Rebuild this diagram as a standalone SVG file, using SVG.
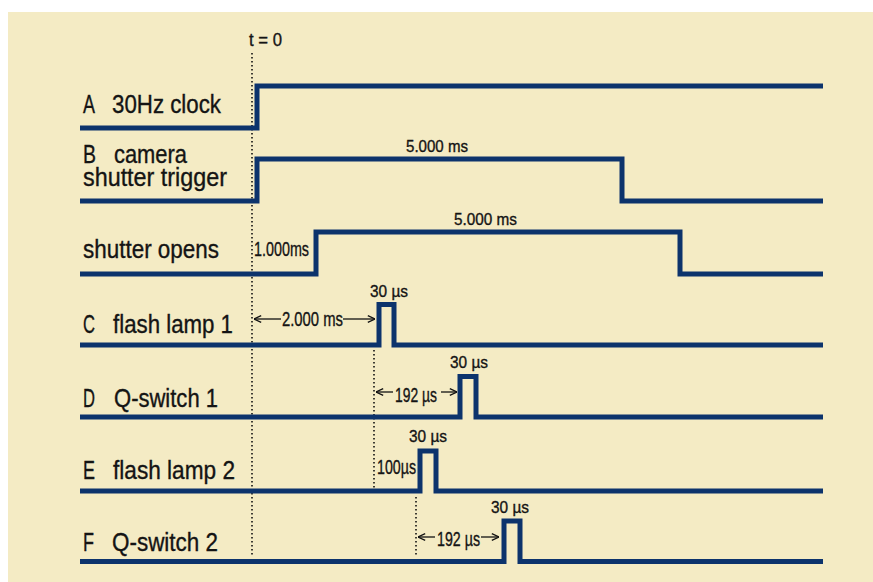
<svg xmlns="http://www.w3.org/2000/svg" width="873" height="582" viewBox="0 0 873 582">
  <style>
    .bg { fill: #f4ebc4; }
    .sig { fill: none; stroke: #0c336c; stroke-width: 5; stroke-linejoin: miter; stroke-linecap: butt; }
    .dot { fill: none; stroke: #111; stroke-width: 1.6; stroke-dasharray: 1.6 2.4; }
    .arr { fill: none; stroke: #111; stroke-width: 1.3; marker-end: url(#ah); }
    text { font-family: "Liberation Sans Narrow", "Liberation Sans", Arial, sans-serif; fill: #141414; stroke: #141414; stroke-width: 0.35; }
    .lbl { font-size: 25px; }
    .mid { font-size: 20px; }
    .sm { font-size: 17px; }
    .t0 { font-size: 18.5px; }
  </style>
  <defs>
    <marker id="ah" markerUnits="userSpaceOnUse" viewBox="0 0 10 10" refX="9.5" refY="5" markerWidth="9" markerHeight="9" orient="auto">
      <path d="M1.5,1.2 L9.5,5 L1.5,8.8" fill="none" stroke="#111" stroke-width="1.4"/>
    </marker>
  </defs>

  <rect class="bg" x="8" y="12" width="865" height="570"/>

  <g id="connectors">
    <path class="dot" d="M252,53 V556"/>
    <path class="dot" d="M374,350 V489"/>
    <path class="dot" d="M416,497 V556"/>
    <path class="arr" d="M281,319 H254"/>
    <path class="arr" d="M343,319 H375"/>
    <path class="arr" d="M393,392 H376"/>
    <path class="arr" d="M441,392 H457"/>
    <path class="arr" d="M435,537 H418"/>
    <path class="arr" d="M481,537 H499"/>
  </g>

  <g id="t0">
    <text class="t0" x="249" y="46" textLength="33" lengthAdjust="spacingAndGlyphs">t = 0</text>
  </g>

  <g id="A">
    <path class="sig" d="M80,128 H257 V86 H823"/>
    <text class="lbl" x="83" y="113" textLength="12" lengthAdjust="spacingAndGlyphs">A</text>
    <text class="lbl" x="112" y="113" textLength="109" lengthAdjust="spacingAndGlyphs">30Hz clock</text>
  </g>

  <g id="B">
    <path class="sig" d="M80,201 H257 V159 H622 V201 H823"/>
    <text class="lbl" x="83" y="163" textLength="13" lengthAdjust="spacingAndGlyphs">B</text>
    <text class="lbl" x="114" y="163" textLength="73" lengthAdjust="spacingAndGlyphs">camera</text>
    <text class="lbl" x="83" y="186" textLength="144" lengthAdjust="spacingAndGlyphs">shutter trigger</text>
    <text class="sm" x="406" y="152" textLength="62" lengthAdjust="spacingAndGlyphs">5.000 ms</text>
  </g>

  <g id="shutter">
    <path class="sig" d="M80,274 H316 V232 H680 V274 H823"/>
    <text class="lbl" x="83" y="258" textLength="136" lengthAdjust="spacingAndGlyphs">shutter opens</text>
    <text class="mid" x="254" y="256" textLength="55" lengthAdjust="spacingAndGlyphs">1.000ms</text>
    <text class="sm" x="454" y="225" textLength="63" lengthAdjust="spacingAndGlyphs">5.000 ms</text>
  </g>

  <g id="C">
    <path class="sig" d="M80,345 H379 V304.5 H394 V345 H823"/>
    <text class="lbl" x="83" y="333" textLength="12" lengthAdjust="spacingAndGlyphs">C</text>
    <text class="lbl" x="113" y="333" textLength="120" lengthAdjust="spacingAndGlyphs">flash lamp 1</text>
    <text class="sm" x="370" y="297" textLength="38" lengthAdjust="spacingAndGlyphs">30 µs</text>
    <text class="mid" x="282" y="326" textLength="61" lengthAdjust="spacingAndGlyphs">2.000 ms</text>
  </g>

  <g id="D">
    <path class="sig" d="M80,417 H460 V376.5 H476 V417 H823"/>
    <text class="lbl" x="83" y="407" textLength="12" lengthAdjust="spacingAndGlyphs">D</text>
    <text class="lbl" x="114" y="407" textLength="104" lengthAdjust="spacingAndGlyphs">Q-switch 1</text>
    <text class="sm" x="450" y="368" textLength="38" lengthAdjust="spacingAndGlyphs">30 µs</text>
    <text class="mid" x="395" y="402" textLength="42" lengthAdjust="spacingAndGlyphs">192 µs</text>
  </g>

  <g id="E">
    <path class="sig" d="M80,491 H420 V451 H436 V491 H823"/>
    <text class="lbl" x="83" y="479" textLength="12" lengthAdjust="spacingAndGlyphs">E</text>
    <text class="lbl" x="113" y="479" textLength="122" lengthAdjust="spacingAndGlyphs">flash lamp 2</text>
    <text class="sm" x="409" y="442" textLength="38" lengthAdjust="spacingAndGlyphs">30 µs</text>
    <text class="mid" x="377" y="474" textLength="39" lengthAdjust="spacingAndGlyphs">100µs</text>
  </g>

  <g id="F">
    <path class="sig" d="M80,561.5 H504 V521 H520 V561.5 H823"/>
    <text class="lbl" x="83" y="551" textLength="11" lengthAdjust="spacingAndGlyphs">F</text>
    <text class="lbl" x="112" y="551" textLength="106" lengthAdjust="spacingAndGlyphs">Q-switch 2</text>
    <text class="sm" x="491" y="513" textLength="38" lengthAdjust="spacingAndGlyphs">30 µs</text>
    <text class="mid" x="437" y="546" textLength="43" lengthAdjust="spacingAndGlyphs">192 µs</text>
  </g>
</svg>
